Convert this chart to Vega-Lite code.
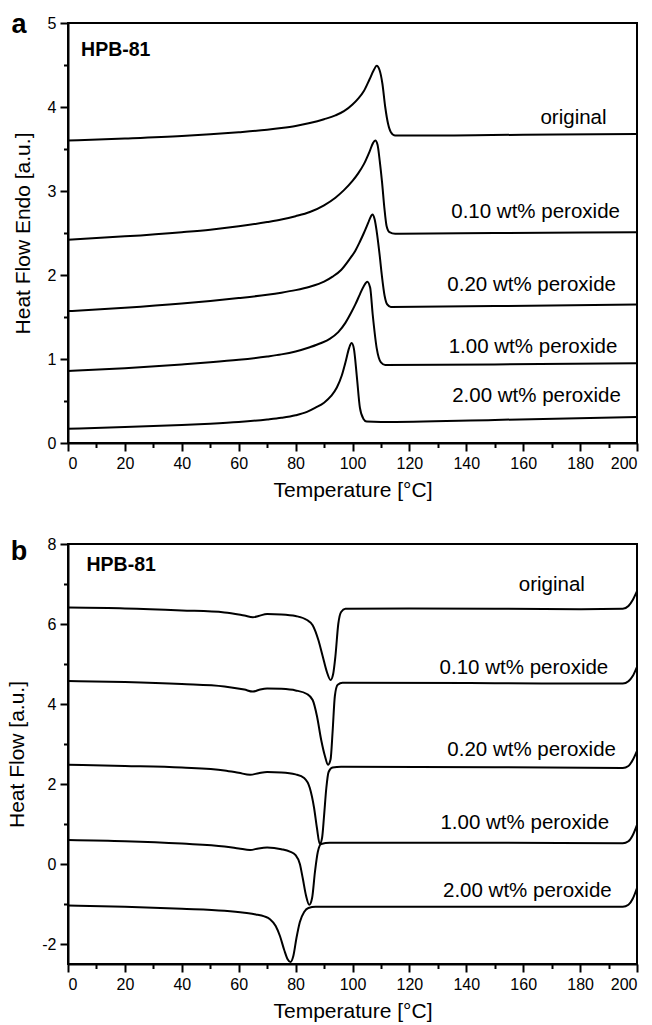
{
  "$schema": "https://vega.github.io/schema/vega-lite/v6.json",
  "padding": {"left": 5, "top": 9, "right": 14, "bottom": 4},
  "background": "white",
  "spacing": 34,
  "config": {
    "font": "Liberation Sans",
    "view": {"stroke": "black", "strokeWidth": 2},
    "axis": {
      "grid": false,
      "domainColor": "black",
      "domainWidth": 2,
      "tickColor": "black",
      "tickWidth": 2,
      "labelColor": "black",
      "titleColor": "black",
      "labelFont": "Liberation Sans",
      "titleFont": "Liberation Sans",
      "labelFontSize": 16,
      "titleFontSize": 21,
      "titleFontWeight": "normal"
    }
  },
  "datasets": {
    "curves": [
      {"p":"a","s":"original","T":0,"HF":3.60},{"p":"a","s":"original","T":20,"HF":3.625},{"p":"a","s":"original","T":40,"HF":3.655},{"p":"a","s":"original","T":50,"HF":3.675},{"p":"a","s":"original","T":60,"HF":3.70},{"p":"a","s":"original","T":70,"HF":3.73},{"p":"a","s":"original","T":75,"HF":3.75},{"p":"a","s":"original","T":80,"HF":3.775},{"p":"a","s":"original","T":85,"HF":3.81},{"p":"a","s":"original","T":90,"HF":3.855},{"p":"a","s":"original","T":94,"HF":3.90},{"p":"a","s":"original","T":97,"HF":3.95},{"p":"a","s":"original","T":100,"HF":4.03},{"p":"a","s":"original","T":102,"HF":4.10},{"p":"a","s":"original","T":104,"HF":4.19},{"p":"a","s":"original","T":106,"HF":4.33},{"p":"a","s":"original","T":107.5,"HF":4.44},{"p":"a","s":"original","T":108.5,"HF":4.49},{"p":"a","s":"original","T":109.5,"HF":4.44},{"p":"a","s":"original","T":110.5,"HF":4.28},{"p":"a","s":"original","T":111.5,"HF":4.0},{"p":"a","s":"original","T":112.5,"HF":3.8},{"p":"a","s":"original","T":113.5,"HF":3.70},{"p":"a","s":"original","T":115,"HF":3.66},{"p":"a","s":"original","T":130,"HF":3.66},{"p":"a","s":"original","T":160,"HF":3.67},{"p":"a","s":"original","T":200,"HF":3.68},
      {"p":"a","s":"p010","T":0,"HF":2.42},{"p":"a","s":"p010","T":20,"HF":2.46},{"p":"a","s":"p010","T":40,"HF":2.51},{"p":"a","s":"p010","T":50,"HF":2.54},{"p":"a","s":"p010","T":60,"HF":2.58},{"p":"a","s":"p010","T":70,"HF":2.63},{"p":"a","s":"p010","T":75,"HF":2.66},{"p":"a","s":"p010","T":80,"HF":2.70},{"p":"a","s":"p010","T":85,"HF":2.75},{"p":"a","s":"p010","T":90,"HF":2.83},{"p":"a","s":"p010","T":94,"HF":2.92},{"p":"a","s":"p010","T":97,"HF":3.01},{"p":"a","s":"p010","T":100,"HF":3.12},{"p":"a","s":"p010","T":102,"HF":3.21},{"p":"a","s":"p010","T":104,"HF":3.32},{"p":"a","s":"p010","T":106,"HF":3.47},{"p":"a","s":"p010","T":107.2,"HF":3.57},{"p":"a","s":"p010","T":108,"HF":3.60},{"p":"a","s":"p010","T":108.8,"HF":3.55},{"p":"a","s":"p010","T":109.6,"HF":3.35},{"p":"a","s":"p010","T":110.4,"HF":3.10},{"p":"a","s":"p010","T":111.2,"HF":2.80},{"p":"a","s":"p010","T":112,"HF":2.58},{"p":"a","s":"p010","T":113,"HF":2.51},{"p":"a","s":"p010","T":115,"HF":2.49},{"p":"a","s":"p010","T":150,"HF":2.50},{"p":"a","s":"p010","T":200,"HF":2.51},
      {"p":"a","s":"p020","T":0,"HF":1.57},{"p":"a","s":"p020","T":20,"HF":1.61},{"p":"a","s":"p020","T":40,"HF":1.66},{"p":"a","s":"p020","T":50,"HF":1.69},{"p":"a","s":"p020","T":60,"HF":1.725},{"p":"a","s":"p020","T":70,"HF":1.765},{"p":"a","s":"p020","T":75,"HF":1.79},{"p":"a","s":"p020","T":80,"HF":1.82},{"p":"a","s":"p020","T":85,"HF":1.86},{"p":"a","s":"p020","T":90,"HF":1.92},{"p":"a","s":"p020","T":93,"HF":1.98},{"p":"a","s":"p020","T":96,"HF":2.06},{"p":"a","s":"p020","T":99,"HF":2.19},{"p":"a","s":"p020","T":101,"HF":2.29},{"p":"a","s":"p020","T":102.5,"HF":2.39},{"p":"a","s":"p020","T":104,"HF":2.50},{"p":"a","s":"p020","T":105.5,"HF":2.62},{"p":"a","s":"p020","T":106.5,"HF":2.70},{"p":"a","s":"p020","T":107,"HF":2.72},{"p":"a","s":"p020","T":107.8,"HF":2.66},{"p":"a","s":"p020","T":108.5,"HF":2.52},{"p":"a","s":"p020","T":109.5,"HF":2.25},{"p":"a","s":"p020","T":110.3,"HF":2.00},{"p":"a","s":"p020","T":111.3,"HF":1.75},{"p":"a","s":"p020","T":112.2,"HF":1.65},{"p":"a","s":"p020","T":113.5,"HF":1.62},{"p":"a","s":"p020","T":150,"HF":1.63},{"p":"a","s":"p020","T":200,"HF":1.65},
      {"p":"a","s":"p100","T":0,"HF":0.857},{"p":"a","s":"p100","T":20,"HF":0.89},{"p":"a","s":"p100","T":40,"HF":0.935},{"p":"a","s":"p100","T":50,"HF":0.96},{"p":"a","s":"p100","T":60,"HF":0.99},{"p":"a","s":"p100","T":70,"HF":1.03},{"p":"a","s":"p100","T":75,"HF":1.055},{"p":"a","s":"p100","T":80,"HF":1.09},{"p":"a","s":"p100","T":85,"HF":1.14},{"p":"a","s":"p100","T":89,"HF":1.19},{"p":"a","s":"p100","T":92,"HF":1.24},{"p":"a","s":"p100","T":95,"HF":1.32},{"p":"a","s":"p100","T":97.5,"HF":1.43},{"p":"a","s":"p100","T":99.5,"HF":1.55},{"p":"a","s":"p100","T":101,"HF":1.65},{"p":"a","s":"p100","T":102.6,"HF":1.77},{"p":"a","s":"p100","T":104,"HF":1.87},{"p":"a","s":"p100","T":105.2,"HF":1.92},{"p":"a","s":"p100","T":106.2,"HF":1.85},{"p":"a","s":"p100","T":107.1,"HF":1.53},{"p":"a","s":"p100","T":108.5,"HF":1.13},{"p":"a","s":"p100","T":110,"HF":0.96},{"p":"a","s":"p100","T":111.5,"HF":0.93},{"p":"a","s":"p100","T":150,"HF":0.935},{"p":"a","s":"p100","T":200,"HF":0.95},
      {"p":"a","s":"p200","T":0,"HF":0.17},{"p":"a","s":"p200","T":20,"HF":0.19},{"p":"a","s":"p200","T":40,"HF":0.215},{"p":"a","s":"p200","T":50,"HF":0.23},{"p":"a","s":"p200","T":60,"HF":0.25},{"p":"a","s":"p200","T":70,"HF":0.28},{"p":"a","s":"p200","T":75,"HF":0.30},{"p":"a","s":"p200","T":80,"HF":0.33},{"p":"a","s":"p200","T":84,"HF":0.37},{"p":"a","s":"p200","T":87,"HF":0.42},{"p":"a","s":"p200","T":90,"HF":0.48},{"p":"a","s":"p200","T":92.5,"HF":0.56},{"p":"a","s":"p200","T":94.5,"HF":0.66},{"p":"a","s":"p200","T":96.2,"HF":0.80},{"p":"a","s":"p200","T":97.6,"HF":0.97},{"p":"a","s":"p200","T":98.8,"HF":1.13},{"p":"a","s":"p200","T":99.7,"HF":1.19},{"p":"a","s":"p200","T":100.5,"HF":1.12},{"p":"a","s":"p200","T":101.5,"HF":0.80},{"p":"a","s":"p200","T":102.6,"HF":0.42},{"p":"a","s":"p200","T":103.8,"HF":0.29},{"p":"a","s":"p200","T":105,"HF":0.255},{"p":"a","s":"p200","T":110,"HF":0.25},{"p":"a","s":"p200","T":150,"HF":0.275},{"p":"a","s":"p200","T":200,"HF":0.31},

      {"p":"b","s":"original","T":0,"HF":6.41},{"p":"b","s":"original","T":20,"HF":6.39},{"p":"b","s":"original","T":40,"HF":6.34},{"p":"b","s":"original","T":55,"HF":6.29},{"p":"b","s":"original","T":62,"HF":6.21},{"p":"b","s":"original","T":65,"HF":6.17},{"p":"b","s":"original","T":67,"HF":6.2},{"p":"b","s":"original","T":70,"HF":6.25},{"p":"b","s":"original","T":75,"HF":6.24},{"p":"b","s":"original","T":80,"HF":6.2},{"p":"b","s":"original","T":84,"HF":6.1},{"p":"b","s":"original","T":86,"HF":5.97},{"p":"b","s":"original","T":88,"HF":5.6},{"p":"b","s":"original","T":89.5,"HF":5.2},{"p":"b","s":"original","T":91,"HF":4.8},{"p":"b","s":"original","T":92.3,"HF":4.6},{"p":"b","s":"original","T":93.2,"HF":4.75},{"p":"b","s":"original","T":94,"HF":5.2},{"p":"b","s":"original","T":95,"HF":6.0},{"p":"b","s":"original","T":96,"HF":6.3},{"p":"b","s":"original","T":97.5,"HF":6.38},{"p":"b","s":"original","T":120,"HF":6.39},{"p":"b","s":"original","T":180,"HF":6.37},{"p":"b","s":"original","T":195,"HF":6.38},{"p":"b","s":"original","T":197,"HF":6.45},{"p":"b","s":"original","T":198.5,"HF":6.6},{"p":"b","s":"original","T":200,"HF":6.82},
      {"p":"b","s":"p010","T":0,"HF":4.575},{"p":"b","s":"p010","T":20,"HF":4.55},{"p":"b","s":"p010","T":40,"HF":4.5},{"p":"b","s":"p010","T":55,"HF":4.44},{"p":"b","s":"p010","T":62,"HF":4.36},{"p":"b","s":"p010","T":65,"HF":4.31},{"p":"b","s":"p010","T":67,"HF":4.35},{"p":"b","s":"p010","T":70,"HF":4.39},{"p":"b","s":"p010","T":75,"HF":4.38},{"p":"b","s":"p010","T":80,"HF":4.34},{"p":"b","s":"p010","T":84,"HF":4.25},{"p":"b","s":"p010","T":86,"HF":4.1},{"p":"b","s":"p010","T":87.5,"HF":3.7},{"p":"b","s":"p010","T":89,"HF":3.1},{"p":"b","s":"p010","T":90.3,"HF":2.7},{"p":"b","s":"p010","T":91.4,"HF":2.48},{"p":"b","s":"p010","T":92.3,"HF":2.62},{"p":"b","s":"p010","T":93,"HF":3.3},{"p":"b","s":"p010","T":93.8,"HF":4.2},{"p":"b","s":"p010","T":94.8,"HF":4.48},{"p":"b","s":"p010","T":96.5,"HF":4.53},{"p":"b","s":"p010","T":150,"HF":4.52},{"p":"b","s":"p010","T":195,"HF":4.51},{"p":"b","s":"p010","T":197,"HF":4.57},{"p":"b","s":"p010","T":198.5,"HF":4.7},{"p":"b","s":"p010","T":200,"HF":4.93},
      {"p":"b","s":"p020","T":0,"HF":2.48},{"p":"b","s":"p020","T":20,"HF":2.45},{"p":"b","s":"p020","T":40,"HF":2.41},{"p":"b","s":"p020","T":55,"HF":2.34},{"p":"b","s":"p020","T":60,"HF":2.28},{"p":"b","s":"p020","T":64,"HF":2.23},{"p":"b","s":"p020","T":67,"HF":2.27},{"p":"b","s":"p020","T":70,"HF":2.30},{"p":"b","s":"p020","T":75,"HF":2.29},{"p":"b","s":"p020","T":80,"HF":2.24},{"p":"b","s":"p020","T":83,"HF":2.15},{"p":"b","s":"p020","T":85,"HF":1.9},{"p":"b","s":"p020","T":86.5,"HF":1.4},{"p":"b","s":"p020","T":87.5,"HF":0.9},{"p":"b","s":"p020","T":88.5,"HF":0.5},{"p":"b","s":"p020","T":89.3,"HF":0.65},{"p":"b","s":"p020","T":90,"HF":1.2},{"p":"b","s":"p020","T":90.8,"HF":1.9},{"p":"b","s":"p020","T":91.6,"HF":2.3},{"p":"b","s":"p020","T":93,"HF":2.41},{"p":"b","s":"p020","T":96,"HF":2.43},{"p":"b","s":"p020","T":150,"HF":2.42},{"p":"b","s":"p020","T":195,"HF":2.40},{"p":"b","s":"p020","T":197,"HF":2.45},{"p":"b","s":"p020","T":198.5,"HF":2.6},{"p":"b","s":"p020","T":200,"HF":2.83},
      {"p":"b","s":"p100","T":0,"HF":0.6},{"p":"b","s":"p100","T":20,"HF":0.57},{"p":"b","s":"p100","T":40,"HF":0.51},{"p":"b","s":"p100","T":55,"HF":0.44},{"p":"b","s":"p100","T":60,"HF":0.39},{"p":"b","s":"p100","T":64,"HF":0.35},{"p":"b","s":"p100","T":67,"HF":0.39},{"p":"b","s":"p100","T":70,"HF":0.41},{"p":"b","s":"p100","T":75,"HF":0.37},{"p":"b","s":"p100","T":78,"HF":0.31},{"p":"b","s":"p100","T":80,"HF":0.22},{"p":"b","s":"p100","T":81.5,"HF":0.0},{"p":"b","s":"p100","T":82.5,"HF":-0.35},{"p":"b","s":"p100","T":83.7,"HF":-0.8},{"p":"b","s":"p100","T":84.8,"HF":-1.02},{"p":"b","s":"p100","T":85.8,"HF":-0.85},{"p":"b","s":"p100","T":86.8,"HF":-0.2},{"p":"b","s":"p100","T":87.8,"HF":0.3},{"p":"b","s":"p100","T":89,"HF":0.5},{"p":"b","s":"p100","T":92,"HF":0.53},{"p":"b","s":"p100","T":150,"HF":0.53},{"p":"b","s":"p100","T":195,"HF":0.52},{"p":"b","s":"p100","T":197,"HF":0.57},{"p":"b","s":"p100","T":198.5,"HF":0.72},{"p":"b","s":"p100","T":200,"HF":0.98},
      {"p":"b","s":"p200","T":0,"HF":-1.04},{"p":"b","s":"p200","T":20,"HF":-1.07},{"p":"b","s":"p200","T":40,"HF":-1.12},{"p":"b","s":"p200","T":55,"HF":-1.17},{"p":"b","s":"p200","T":62,"HF":-1.22},{"p":"b","s":"p200","T":66,"HF":-1.26},{"p":"b","s":"p200","T":69,"HF":-1.31},{"p":"b","s":"p200","T":71,"HF":-1.38},{"p":"b","s":"p200","T":73,"HF":-1.55},{"p":"b","s":"p200","T":74.5,"HF":-1.8},{"p":"b","s":"p200","T":76,"HF":-2.15},{"p":"b","s":"p200","T":77.2,"HF":-2.38},{"p":"b","s":"p200","T":78.2,"HF":-2.45},{"p":"b","s":"p200","T":79.2,"HF":-2.3},{"p":"b","s":"p200","T":80.3,"HF":-1.85},{"p":"b","s":"p200","T":81.5,"HF":-1.45},{"p":"b","s":"p200","T":83,"HF":-1.2},{"p":"b","s":"p200","T":84.5,"HF":-1.1},{"p":"b","s":"p200","T":87,"HF":-1.07},{"p":"b","s":"p200","T":150,"HF":-1.07},{"p":"b","s":"p200","T":195,"HF":-1.07},{"p":"b","s":"p200","T":197,"HF":-1.02},{"p":"b","s":"p200","T":198.5,"HF":-0.87},{"p":"b","s":"p200","T":200,"HF":-0.6}
    ],
    "labels": [
      {"p":"a","kind":"series","label":"original","T":189.3,"HF":3.80},
      {"p":"a","kind":"series","label":"0.10 wt% peroxide","T":194.0,"HF":2.675},
      {"p":"a","kind":"series","label":"0.20 wt% peroxide","T":192.6,"HF":1.81},
      {"p":"a","kind":"series","label":"1.00 wt% peroxide","T":193.1,"HF":1.075},
      {"p":"a","kind":"series","label":"2.00 wt% peroxide","T":194.3,"HF":0.492},
      {"p":"b","kind":"series","label":"original","T":181.7,"HF":6.83},
      {"p":"b","kind":"series","label":"0.10 wt% peroxide","T":189.9,"HF":4.75},
      {"p":"b","kind":"series","label":"0.20 wt% peroxide","T":192.6,"HF":2.7},
      {"p":"b","kind":"series","label":"1.00 wt% peroxide","T":190.2,"HF":0.867},
      {"p":"b","kind":"series","label":"2.00 wt% peroxide","T":191.1,"HF":-0.83},
      {"p":"a","kind":"tag","label":"HPB-81","T":4.6,"HF":4.607},
      {"p":"b","kind":"tag","label":"HPB-81","T":6.5,"HF":7.33},
      {"p":"a","kind":"letter","label":"a","T":-17.2,"HF":4.885},
      {"p":"b","kind":"letter","label":"b","T":-17.2,"HF":7.6}
    ]
  },
  "vconcat": [
    {
      "width": 569,
      "height": 420,
      "resolve": {"axis": {"x": "independent", "y": "independent"}},
      "layer": [
        {
          "data": {"name": "curves"},
          "transform": [{"filter": "datum.p === 'a'"}],
          "mark": {"type": "line", "interpolate": "monotone", "color": "black", "strokeWidth": 2},
          "encoding": {
            "x": {"field": "T", "type": "quantitative", "scale": {"domain": [0, 200], "nice": false, "zero": false},
                  "axis": {"orient": "bottom", "values": [0,20,40,60,80,100,120,140,160,180,200], "tickSize": 8, "labelPadding": 4, "title": "Temperature [°C]", "titlePadding": 8}},
            "y": {"field": "HF", "type": "quantitative", "scale": {"domain": [0, 5], "nice": false, "zero": false},
                  "axis": {"orient": "left", "values": [0,1,2,3,4,5], "tickSize": 8, "labelPadding": 4, "title": "Heat Flow Endo [a.u.]", "titlePadding": 14}},
            "detail": {"field": "s"}
          }
        },
        {
          "data": {"name": "curves"},
          "transform": [{"filter": "datum.p === 'a'"}],
          "mark": {"type": "line", "opacity": 0},
          "encoding": {
            "x": {"field": "T", "type": "quantitative", "axis": {"orient": "bottom", "values": [10,30,50,70,90,110,130,150,170,190], "tickSize": 4.5, "labels": false, "domain": false, "title": null}},
            "y": {"field": "HF", "type": "quantitative", "axis": {"orient": "left", "values": [0.5,1.5,2.5,3.5,4.5], "tickSize": 4.5, "labels": false, "domain": false, "title": null}},
            "detail": {"field": "s"}
          }
        },
        {
          "data": {"name": "labels"},
          "transform": [{"filter": "datum.p === 'a' && datum.kind === 'series'"}],
          "mark": {"type": "text", "align": "right", "baseline": "alphabetic", "fontSize": 20.5, "color": "black"},
          "encoding": {
            "x": {"field": "T", "type": "quantitative", "axis": null},
            "y": {"field": "HF", "type": "quantitative", "axis": null},
            "text": {"field": "label"}
          }
        },
        {
          "data": {"name": "labels"},
          "transform": [{"filter": "datum.p === 'a' && datum.kind === 'tag'"}],
          "mark": {"type": "text", "align": "left", "baseline": "alphabetic", "fontSize": 19.5, "fontWeight": "bold", "color": "black"},
          "encoding": {
            "x": {"field": "T", "type": "quantitative", "axis": null},
            "y": {"field": "HF", "type": "quantitative", "axis": null},
            "text": {"field": "label"}
          }
        },
        {
          "data": {"name": "labels"},
          "transform": [{"filter": "datum.p === 'a' && datum.kind === 'letter'"}],
          "mark": {"type": "text", "align": "center", "baseline": "alphabetic", "fontSize": 27, "fontWeight": "bold", "color": "black"},
          "encoding": {
            "x": {"field": "T", "type": "quantitative", "axis": null},
            "y": {"field": "HF", "type": "quantitative", "axis": null},
            "text": {"field": "label"}
          }
        }
      ]
    },
    {
      "width": 569,
      "height": 420,
      "resolve": {"axis": {"x": "independent", "y": "independent"}},
      "layer": [
        {
          "data": {"name": "curves"},
          "transform": [{"filter": "datum.p === 'b'"}],
          "mark": {"type": "line", "interpolate": "monotone", "color": "black", "strokeWidth": 2},
          "encoding": {
            "x": {"field": "T", "type": "quantitative", "scale": {"domain": [0, 200], "nice": false, "zero": false},
                  "axis": {"orient": "bottom", "values": [0,20,40,60,80,100,120,140,160,180,200], "tickSize": 8, "labelPadding": 4, "title": "Temperature [°C]", "titlePadding": 8}},
            "y": {"field": "HF", "type": "quantitative", "scale": {"domain": [-2.5, 8], "nice": false, "zero": false},
                  "axis": {"orient": "left", "values": [-2,0,2,4,6,8], "labelExpr": "'' + datum.value", "tickSize": 8, "labelPadding": 4, "title": "Heat Flow  [a.u.]", "titlePadding": 14}},
            "detail": {"field": "s"}
          }
        },
        {
          "data": {"name": "curves"},
          "transform": [{"filter": "datum.p === 'b'"}],
          "mark": {"type": "line", "opacity": 0},
          "encoding": {
            "x": {"field": "T", "type": "quantitative", "axis": {"orient": "bottom", "values": [10,30,50,70,90,110,130,150,170,190], "tickSize": 4.5, "labels": false, "domain": false, "title": null}},
            "y": {"field": "HF", "type": "quantitative", "axis": {"orient": "left", "values": [-1,1,3,5,7], "tickSize": 4.5, "labels": false, "domain": false, "title": null}},
            "detail": {"field": "s"}
          }
        },
        {
          "data": {"name": "labels"},
          "transform": [{"filter": "datum.p === 'b' && datum.kind === 'series'"}],
          "mark": {"type": "text", "align": "right", "baseline": "alphabetic", "fontSize": 20.5, "color": "black"},
          "encoding": {
            "x": {"field": "T", "type": "quantitative", "axis": null},
            "y": {"field": "HF", "type": "quantitative", "axis": null},
            "text": {"field": "label"}
          }
        },
        {
          "data": {"name": "labels"},
          "transform": [{"filter": "datum.p === 'b' && datum.kind === 'tag'"}],
          "mark": {"type": "text", "align": "left", "baseline": "alphabetic", "fontSize": 19.5, "fontWeight": "bold", "color": "black"},
          "encoding": {
            "x": {"field": "T", "type": "quantitative", "axis": null},
            "y": {"field": "HF", "type": "quantitative", "axis": null},
            "text": {"field": "label"}
          }
        },
        {
          "data": {"name": "labels"},
          "transform": [{"filter": "datum.p === 'b' && datum.kind === 'letter'"}],
          "mark": {"type": "text", "align": "center", "baseline": "alphabetic", "fontSize": 27, "fontWeight": "bold", "color": "black"},
          "encoding": {
            "x": {"field": "T", "type": "quantitative", "axis": null},
            "y": {"field": "HF", "type": "quantitative", "axis": null},
            "text": {"field": "label"}
          }
        }
      ]
    }
  ]
}
